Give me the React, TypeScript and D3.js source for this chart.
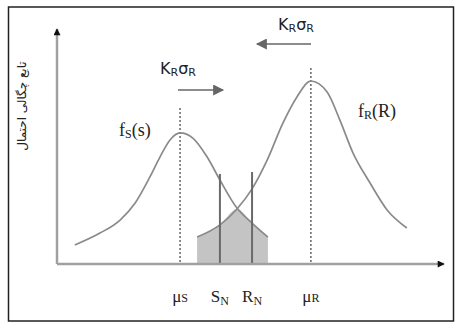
import { useEffect, useRef } from "react"
import * as d3 from "d3"

// curve points (x: 0-100 along the axis, y: 0-100 density)
const sCurve: [number, number][] = [
  [4.6, 8.1], [11.1, 13.2], [16.3, 18.8], [20.2, 26.1], [24.0, 37.2], [26.6, 45.7],
  [29.2, 53.0], [31.8, 56.0], [35.1, 53.8], [38.8, 45.7], [42.1, 35.9], [46.5, 23.9],
  [50.4, 17.5], [54.5, 11.5],
]
const rCurve: [number, number][] = [
  [36.2, 11.5], [42.1, 16.7], [46.5, 23.5], [50.4, 32.1], [54.3, 44.4], [58.4, 60.3],
  [62.0, 71.4], [65.6, 78.2], [69.8, 73.5], [73.1, 61.5], [76.5, 47.4], [80.9, 34.6],
  [85.3, 23.1], [90.4, 15.4],
]
const shadeStart = 36.2
const crossAt = 46.5
const shadeEnd = 54.5

const meanX = [31.8, 65.6]
const meanTop = [66.7, 83.8]
const limitX = [42.1, 50.4]
const limitTop = [38.5, 39.3]

const tickMain = ["μ", "S", "R", "μ"]
const tickSub = ["S", "N", "N", "R"]
const tickX = [31.8, 42.1, 50.4, 65.6]

export default function App() {
  const svgRef = useRef<SVGSVGElement>(null)

  useEffect(() => {
    if (!svgRef.current) return
    const svg = d3.select(svgRef.current)
    svg.selectAll("*").remove()

    const x = d3.scaleLinear().domain([0, 100]).range([57, 444])
    const y = d3.scaleLinear().domain([0, 100]).range([264, 30])

    const defs = svg.append("defs")
    defs
      .append("marker")
      .attr("id", "axisHead")
      .attr("viewBox", "0 0 10 10")
      .attr("refX", 9)
      .attr("refY", 5)
      .attr("markerWidth", 10)
      .attr("markerHeight", 7)
      .attr("markerUnits", "userSpaceOnUse")
      .attr("orient", "auto")
      .append("path")
      .attr("d", "M0,0L10,5L0,10Z")
      .attr("fill", "#111")
    defs
      .append("marker")
      .attr("id", "grayHead")
      .attr("viewBox", "0 0 10 10")
      .attr("refX", 9)
      .attr("refY", 5)
      .attr("markerWidth", 13)
      .attr("markerHeight", 11)
      .attr("markerUnits", "userSpaceOnUse")
      .attr("orient", "auto")
      .append("path")
      .attr("d", "M0,0L10,5L0,10Z")
      .attr("fill", "#666")

    // frame
    svg
      .append("rect")
      .attr("x", 8.5)
      .attr("y", 7)
      .attr("width", 445)
      .attr("height", 314)
      .attr("fill", "white")
      .attr("stroke", "#222")
      .attr("stroke-width", 1.5)

    // shaded interference area
    const shade = [
      ...rCurve.filter((d) => d[0] >= shadeStart && d[0] <= crossAt),
      ...sCurve.filter((d) => d[0] > crossAt && d[0] <= shadeEnd),
    ]
    svg
      .append("path")
      .datum(shade)
      .attr(
        "d",
        d3
          .area<[number, number]>()
          .x((d) => x(d[0]))
          .y0(y(0))
          .y1((d) => y(d[1]))
          .curve(d3.curveMonotoneX),
      )
      .attr("fill", "#c4c4c4")

    // dotted mean lines
    svg
      .selectAll(".mean")
      .data(meanX)
      .enter()
      .append("line")
      .attr("x1", (d) => x(d))
      .attr("x2", (d) => x(d))
      .attr("y1", (d, i) => y(meanTop[i]))
      .attr("y2", y(0))
      .attr("stroke", "#666")
      .attr("stroke-width", 1.5)
      .attr("stroke-dasharray", "2,2")

    const line = d3
      .line<[number, number]>()
      .x((d) => x(d[0]))
      .y((d) => y(d[1]))
      .curve(d3.curveMonotoneX)

    ;[sCurve, rCurve].forEach((c) => {
      svg
        .append("path")
        .datum(c)
        .attr("d", line)
        .attr("fill", "none")
        .attr("stroke", "#8a8a8a")
        .attr("stroke-width", 1.7)
    })

    // nominal lines
    svg
      .selectAll(".limit")
      .data(limitX)
      .enter()
      .append("line")
      .attr("x1", (d) => x(d))
      .attr("x2", (d) => x(d))
      .attr("y1", (d, i) => y(limitTop[i]))
      .attr("y2", y(0))
      .attr("stroke", "#6a6a6a")
      .attr("stroke-width", 2)

    // axes
    svg
      .append("line")
      .attr("x1", x(0))
      .attr("y1", y(0))
      .attr("x2", x(100))
      .attr("y2", y(0))
      .attr("stroke", "#a0a0a0")
      .attr("stroke-width", 2.5)
      .attr("marker-end", "url(#axisHead)")
    svg
      .append("line")
      .attr("x1", x(0))
      .attr("y1", y(0))
      .attr("x2", x(0))
      .attr("y2", y(100) - 1)
      .attr("stroke", "#a0a0a0")
      .attr("stroke-width", 2.5)
      .attr("marker-end", "url(#axisHead)")

    // tick labels under the axis
    const ticks = svg
      .selectAll(".tick")
      .data(tickX)
      .enter()
      .append("text")
      .attr("x", (d) => x(d))
      .attr("y", 302)
      .attr("text-anchor", "middle")
      .style("font-family", "Liberation Serif")
      .style("font-size", "17px")
      .attr("fill", "#222")
    ticks.append("tspan").text((d, i) => tickMain[i])
    ticks
      .append("tspan")
      .attr("dy", (d, i) => (tickMain[i] === "μ" ? 0 : 3))
      .style("font-size", "12px")
      .text((d, i) => tickSub[i])

    // density labels
    const fLabel = (px: number, py: number, sub: string, arg: string) => {
      const t = svg
        .append("text")
        .attr("x", px)
        .attr("y", py)
        .style("font-family", "Liberation Serif")
        .style("font-size", "18px")
        .attr("fill", "#222")
      t.append("tspan").text("f")
      t.append("tspan").attr("dy", 2).style("font-size", "12px").text(sub)
      t.append("tspan").attr("dy", -2).text(`(${arg})`)
    }
    fLabel(119, 136, "S", "s")
    fLabel(358, 117, "R", "R")

    // shift arrows with K_R σ_R
    const kLabel = (px: number, py: number) => {
      const t = svg
        .append("text")
        .attr("x", px)
        .attr("y", py)
        .style("font-family", "DejaVu Sans")
        .style("font-size", "16px")
        .attr("fill", "#222")
      t.append("tspan").text("K")
      t.append("tspan").attr("dy", 2).style("font-size", "11px").text("R")
      t.append("tspan").attr("dy", -2).text("σ")
      t.append("tspan").attr("dy", 2).style("font-size", "11px").text("R")
    }
    kLabel(160, 74)
    kLabel(278, 30)

    svg
      .append("line")
      .attr("x1", 178)
      .attr("y1", 90)
      .attr("x2", 223)
      .attr("y2", 90)
      .attr("stroke", "#666")
      .attr("stroke-width", 1.6)
      .attr("marker-end", "url(#grayHead)")
    svg
      .append("line")
      .attr("x1", 311)
      .attr("y1", 44)
      .attr("x2", 257)
      .attr("y2", 44)
      .attr("stroke", "#666")
      .attr("stroke-width", 1.6)
      .attr("marker-end", "url(#grayHead)")

    // y axis title (Persian)
    svg
      .append("text")
      .attr("transform", "translate(26,106) rotate(-90)")
      .attr("text-anchor", "middle")
      .attr("direction", "rtl")
      .style("font-family", "DejaVu Sans")
      .style("font-size", "12px")
      .attr("fill", "#222")
      .text("تابع چگالی احتمال")
  }, [])

  return (
    <svg
      ref={svgRef}
      width={456}
      height={323}
      style={{ position: "absolute", left: 0, top: 0, background: "white" }}
    ></svg>
  )
}
